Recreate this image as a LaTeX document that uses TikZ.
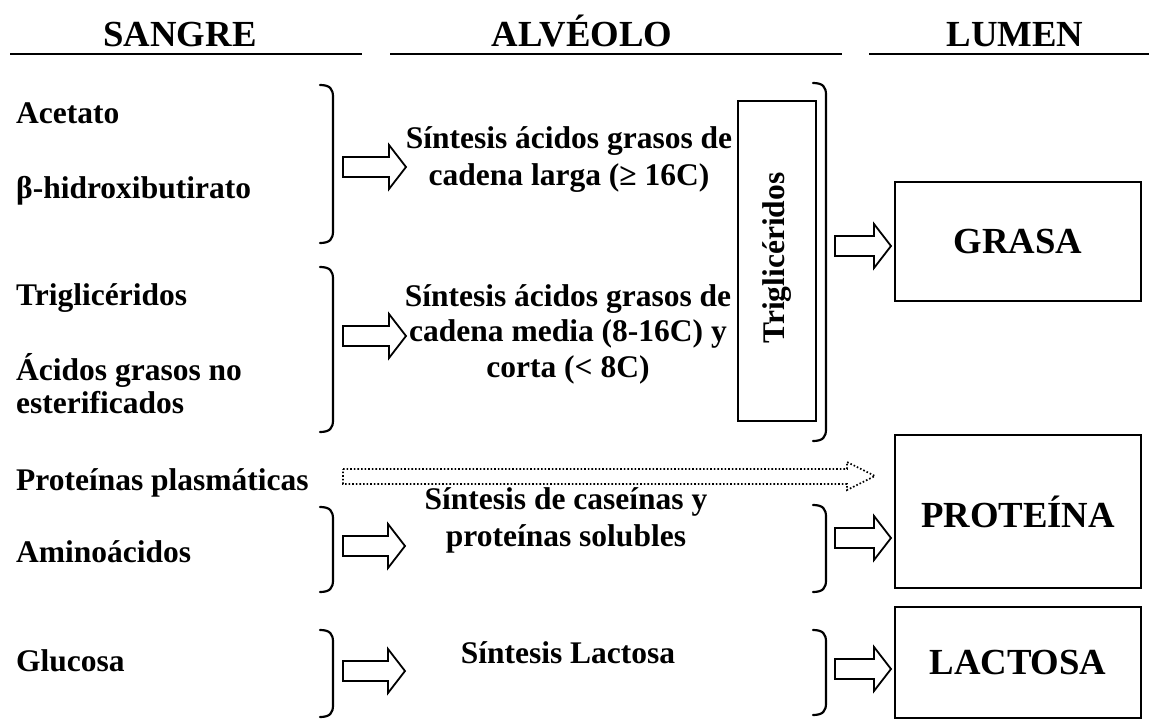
\documentclass[tikz,border=0pt]{standalone}
\usepackage{fontspec}
\setmainfont{Liberation Serif}
\begin{document}
\begin{tikzpicture}[x=1pt,y=-1pt,
  body/.style={font=\bfseries\fontsize{31.5}{37}\selectfont, inner sep=0pt},
  head/.style={font=\bfseries\fontsize{36.75}{40}\selectfont, inner sep=0pt},
  ltxt/.style={body, anchor=base west, align=left},
  ctxt/.style={body, align=center},
  box/.style={draw, line width=1.6pt},
  brk/.style={line width=2.2pt, line cap=round},
  harrow/.style={draw, line width=1.8pt, line join=miter, fill=white},
  hline/.style={line width=2.4pt}
]
\useasboundingbox (0,0) rectangle (1149,720);

\newcommand\closebrk[3]{% x, ytop, ybottom
  \draw[brk] (#1-13,#2) .. controls (#1-3,#2) and (#1,#2+4) .. (#1,#2+12)
    -- (#1,#3-12) .. controls (#1,#3-4) and (#1-3,#3) .. (#1-13,#3);}
\newcommand\blockarrow[4]{% x1, x2(tip), y, style
  \draw[harrow,#4] (#1,#3-10) -- (#2-17,#3-10) -- (#2-17,#3-22) -- (#2,#3)
    -- (#2-17,#3+22) -- (#2-17,#3+10) -- (#1,#3+10) -- cycle;}

% headers
\node[head, anchor=base] (hs) at (180,46) {SANGRE};
\node[head, anchor=base] (ha) at (582,46) {ALVÉOLO};
\node[head, anchor=base] (hl) at (1015,46) {LUMEN};
\draw[hline] (10,54) -- (362,54);
\draw[hline] (390,54) -- (842,54);
\draw[hline] (869,54) -- (1149,54);

% left column
\node[ltxt] (ace) at (16,123) {Acetato};
\node[ltxt] (bhb) at (16,198) {β-hidroxibutirato};
\node[ltxt] (tgl) at (16,305) {Triglicéridos};
\node[ltxt] (agn) at (16,380) {Ácidos grasos no};
\node[ltxt] (est) at (16,413) {esterificados};
\node[ltxt] (ppl) at (16,490) {Proteínas plasmáticas};
\node[ltxt] (ami) at (16,562) {Aminoácidos};
\node[ltxt] (glu) at (16,671) {Glucosa};

% left braces
\closebrk{333}{85}{243}
\closebrk{333}{267}{432}
\closebrk{333}{507}{592}
\closebrk{333}{630}{717}

% middle texts
\node[ctxt] (s1) at (569,160) {Síntesis ácidos grasos de\\cadena larga (≥ 16C)};
\node[ctxt, font=\bfseries\fontsize{31.5}{35.5}\selectfont] (s2) at (568,334) {Síntesis ácidos grasos de\\cadena media (8-16C) y\\corta (< 8C)};
\node[ctxt] (s3) at (566,520) {Síntesis de caseínas y\\proteínas solubles};
\node[ctxt] (s4) at (568,653) {Síntesis Lactosa};

% arrows left
\blockarrow{343}{406}{167}{}
\blockarrow{343}{406}{336}{}
\blockarrow{343}{405}{546}{}
\blockarrow{343}{405}{671}{}

% dotted arrow
\draw[line width=1.6pt, dotted, line join=miter] (343,469) -- (847,469) -- (847,462) -- (875,476)
  -- (847,490) -- (847,484) -- (343,484) -- cycle;

% Triglicéridos box
\draw[box] (738,101) rectangle (816,421);
\node[body, rotate=90] (trg) at (777,258) {Triglicéridos};

% right braces
\closebrk{826}{83}{441}
\closebrk{826}{505}{592}
\closebrk{826}{630}{715}

% right arrows
\blockarrow{835}{891}{246}{}
\blockarrow{835}{891}{538}{}
\blockarrow{835}{891}{669}{}

% lumen boxes
\node[box, head, minimum width=246pt, minimum height=119pt] (gra) at (1018,241.5) {GRASA};
\node[box, head, minimum width=246pt, minimum height=153pt] (pro) at (1018,511.5) {PROTEÍNA};
\node[box, head, minimum width=246pt, minimum height=111pt] (lac) at (1018,662.5) {LACTOSA};
\end{tikzpicture}
\end{document}
